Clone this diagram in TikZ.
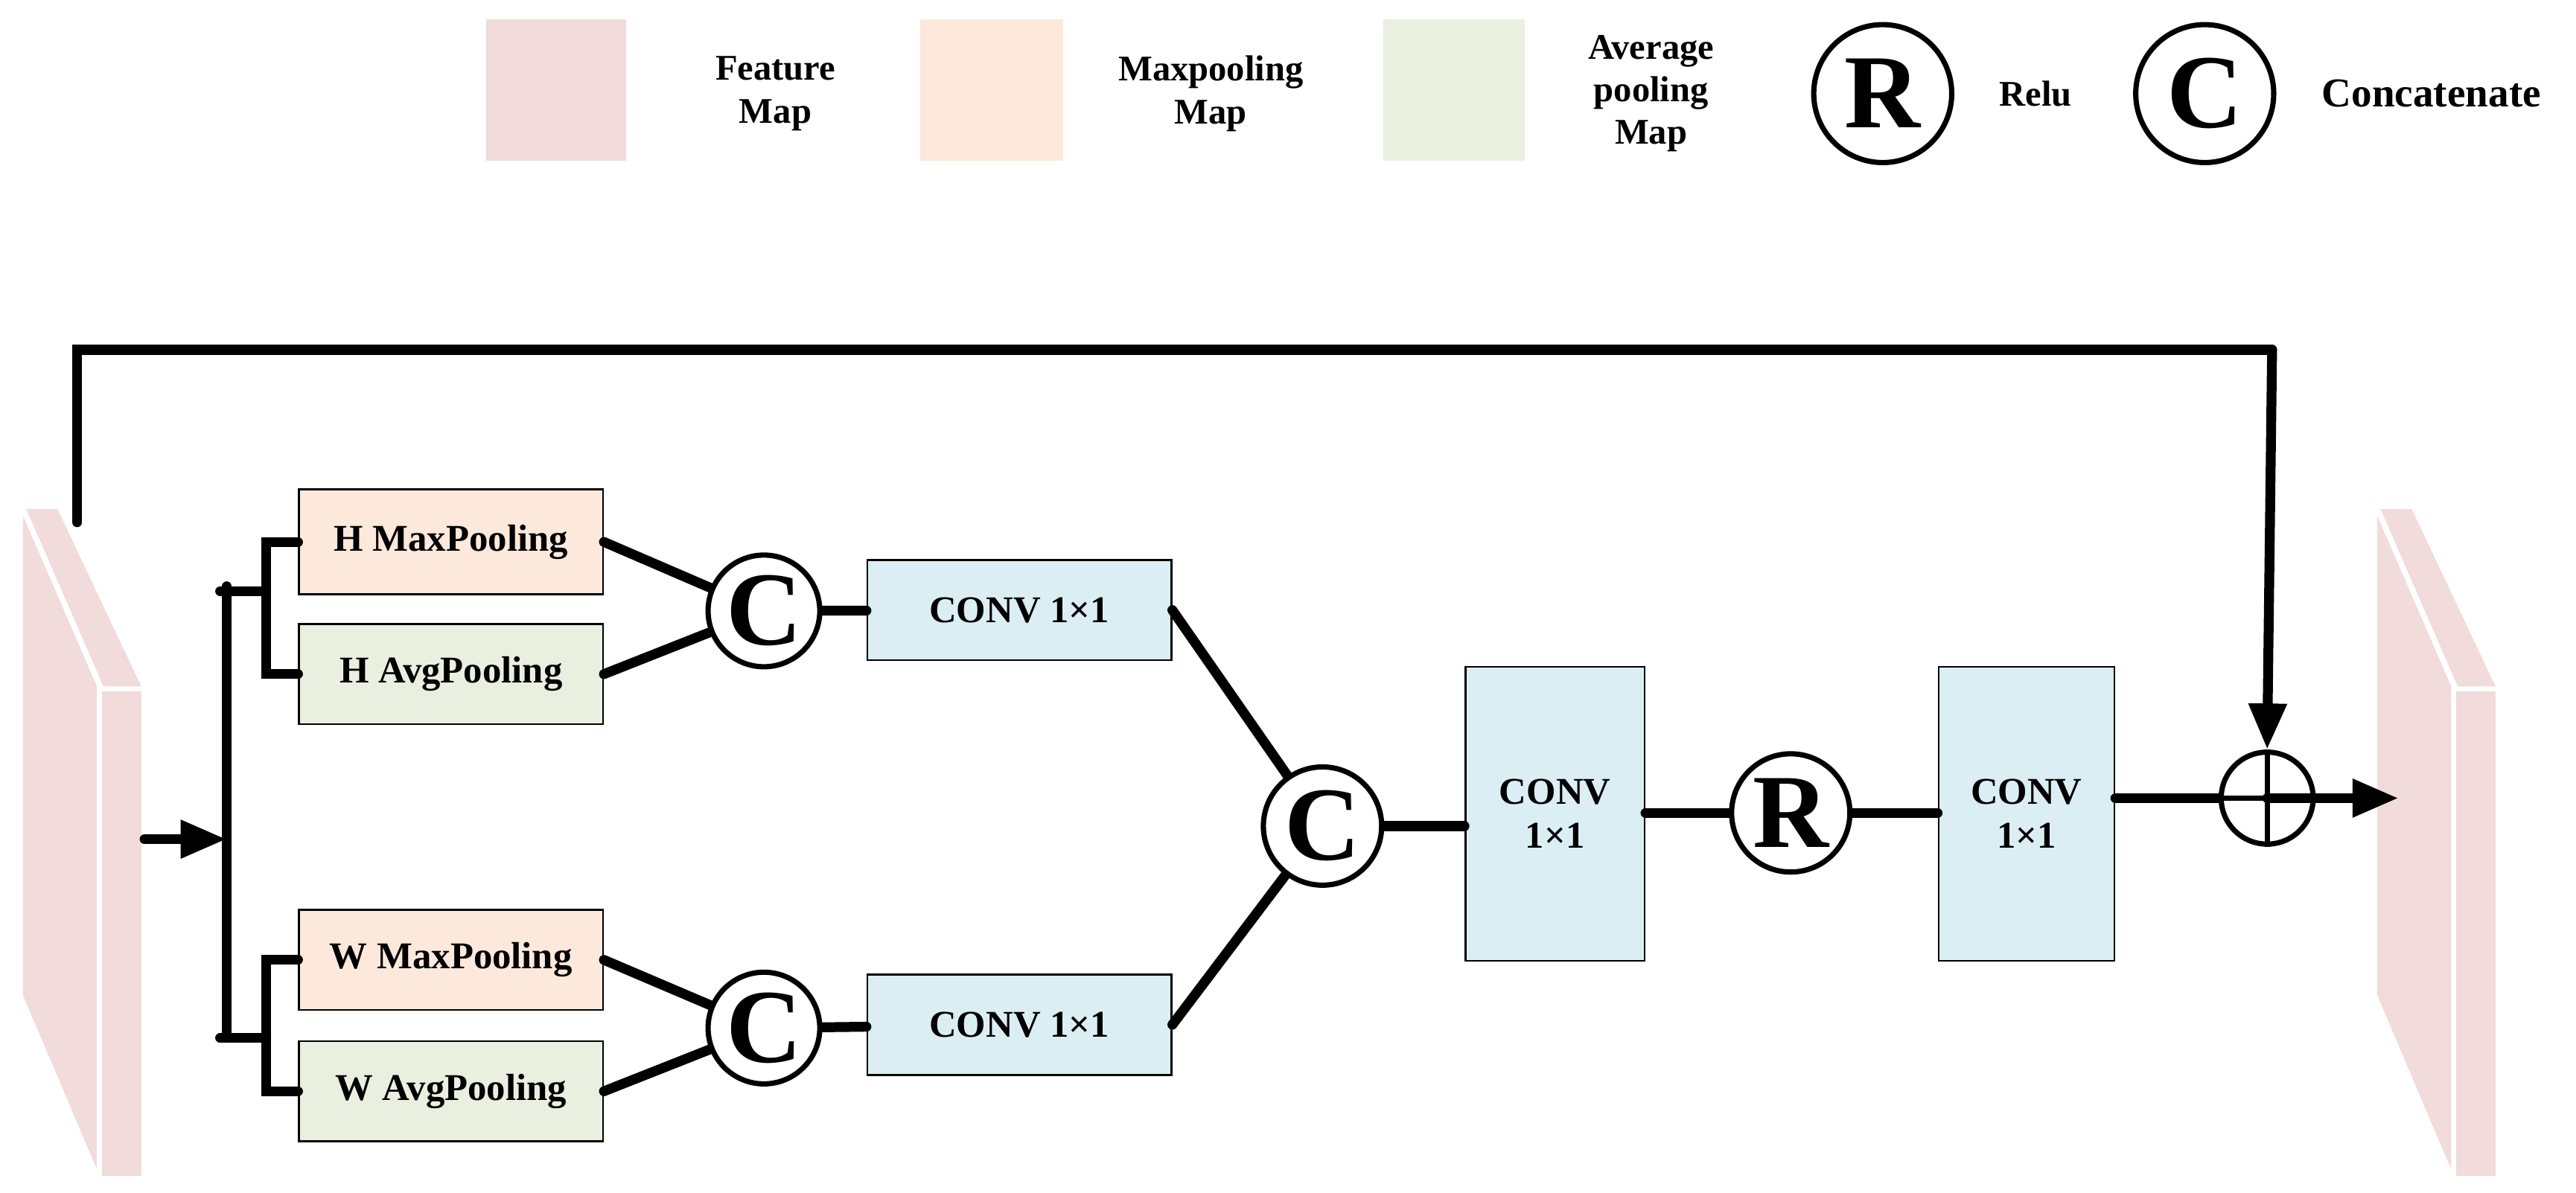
\documentclass[tikz,border=0pt]{standalone}
\usepackage{fontspec}
\setmainfont{Liberation Serif}
\usetikzlibrary{arrows.meta}
\definecolor{fm}{HTML}{F1DBDB}
\definecolor{mp}{HTML}{FCE9DC}
\definecolor{ap}{HTML}{E9F0E0}
\definecolor{cv}{HTML}{DBEEF4}
\begin{document}
\begin{tikzpicture}[x=0.5pt,y=-0.5pt,
 ln/.style={line width=3pt,line cap=round},
 box/.style={draw,line width=0.6pt,font=\bfseries\fontsize{11.5}{13.5}\selectfont,align=center,inner sep=0},
 cir/.style={draw,circle,line width=1.6pt,inner sep=0,font=\bfseries\fontsize{32}{32}\selectfont},
 leg/.style={font=\bfseries\fontsize{11}{13}\selectfont,align=center},
 arr/.style={ln,-{Triangle[length=14pt,width=11pt]}}]
\useasboundingbox (0,0) rectangle (1568,726);
% legend
\fill[fm] (296,12) rectangle (381,98);
\node[leg] (l1) at (472,57) {Feature\\Map};
\fill[mp] (560,12) rectangle (647,98);
\node[leg] (l2) at (737,57) {Maxpooling\\Map};
\fill[ap] (842,12) rectangle (928,98);
\node[leg] (l3) at (1005,57) {Average\\pooling\\Map};
\node[cir,minimum size=42pt] (lr) at (1146,57) {R};
\node[leg] (l4) at (1239,57) {Relu};
\node[cir,minimum size=42pt] (lc) at (1342,57) {C};
\node[leg,font=\bfseries\fontsize{12.5}{14}\selectfont] (l5) at (1480,57) {Concatenate};
% slabs
\foreach \x in {12,1445}{
 \fill[fm] (\x+2,314) -- (\x+47,418) -- (\x+47,712) -- (\x+2,606) -- cycle;
 \fill[fm] (\x+4,310) -- (\x+23,310) -- (\x+74,418) -- (\x+51,418) -- cycle;
 \fill[fm] (\x+50,421) rectangle (\x+74,716);
}
% boxes
\node[box,fill=mp,minimum width=92.5pt,minimum height=32pt] (hm) at (274.5,330) {H MaxPooling};
\node[box,fill=ap,minimum width=92.5pt,minimum height=30.5pt] (ha) at (274.5,410.5) {H AvgPooling};
\node[box,fill=mp,minimum width=92.5pt,minimum height=30.5pt] (wm) at (274.5,584.5) {W MaxPooling};
\node[box,fill=ap,minimum width=92.5pt,minimum height=30.5pt] (wa) at (274.5,664.5) {W AvgPooling};
\node[cir,minimum size=34pt] (c1) at (465,372) {C};
\node[cir,minimum size=34pt] (c2) at (465,626) {C};
\node[box,fill=cv,minimum width=92.5pt,minimum height=30.5pt] (k1) at (620.5,371.5) {CONV 1×1};
\node[box,fill=cv,minimum width=92.5pt,minimum height=30.5pt] (k2) at (620.5,624) {CONV 1×1};
\node[cir,minimum size=36pt] (c3) at (805,503) {C};
\node[box,fill=cv,minimum width=54.5pt,minimum height=89.5pt] (k3) at (946.5,495.5) {CONV\\1×1};
\node[cir,minimum size=36pt] (r) at (1090,495) {R};
\node[box,fill=cv,minimum width=53.5pt,minimum height=89.5pt] (k4) at (1233.5,495.5) {CONV\\1×1};
\node[draw,circle,line width=1.6pt,minimum size=28pt,inner sep=0] (p) at (1380,486) {};
\draw[line width=1.6pt] (p.north)--(p.south) (p.west)--(p.east);
\coordinate (in0) at (88,511);
\coordinate (bar) at (138,511);
\coordinate (out) at (1460,486);
\coordinate (t0) at (47,318);
% connectors
\draw[arr] (in0) -- (bar);
\draw[ln] (138,357) -- (138,632);
\draw[ln] (134,360) -- (162,360);
\draw[ln] (hm.west) -| (162,360) |- (ha.west);
\draw[ln] (134,632) -- (162,632);
\draw[ln] (wm.west) -| (162,632) |- (wa.west);
\draw[ln] (hm.east) -- (c1); \draw[ln] (ha.east) -- (c1);
\draw[ln] (wm.east) -- (c2); \draw[ln] (wa.east) -- (c2);
\draw[ln] (c1) -- (k1); \draw[ln] (c2) -- (k2);
\draw[ln] (k1.east) -- (c3);
\draw[ln] (k2.east) -- (c3);
\draw[ln] (c3.east) -- (c3.east -| k3.west);
\draw[ln] (r.west -| k3.east) -- (r.west);
\draw[ln] (r.east) -- (r.east -| k4.west);
\draw[ln] (k4.east |- p.west) -- (p.west);
\draw[arr] (p.center) -- (out);
\draw[ln] (t0) |- (1383,213);
\draw[arr] (1383,213) -- (p.north);
\end{tikzpicture}
\end{document}
